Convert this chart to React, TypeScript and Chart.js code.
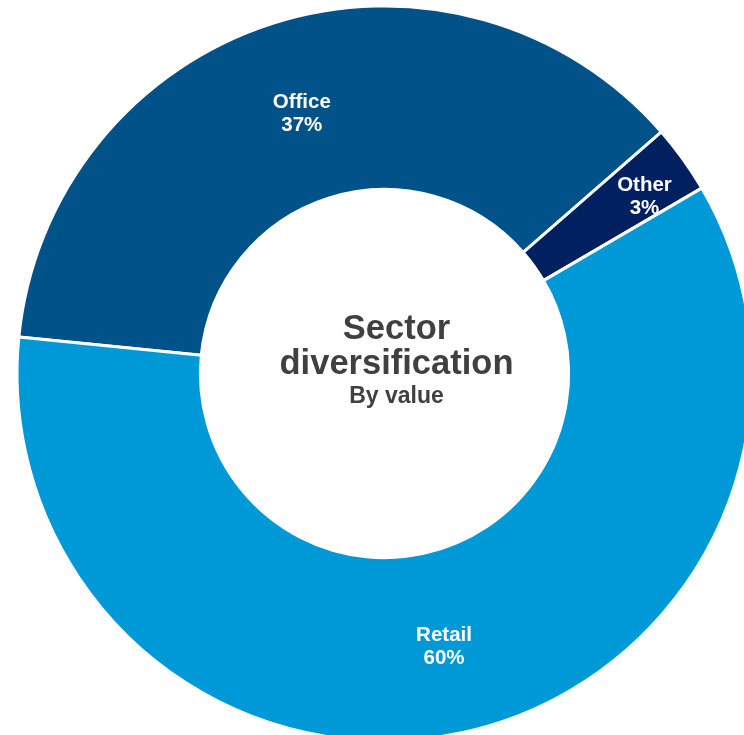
import React, { useEffect, useRef } from "react";
import { Chart, registerables } from "chart.js";

Chart.register(...registerables);

const categories = ["Office", "Other", "Retail"];
const values = [37, 3, 60];
const valueLabels = ["37%", "3%", "60%"];
const colors = ["#005288", "#002060", "#0099D8"];
const labelRadiusFrac = [0.48, 0.71, 0.52];
const labelAngleShiftDeg = [0, 1.5, 0];
const centerLines = ["Sector", "diversification", "By value"];

const FONT = '"Liberation Sans", Arial, Helvetica, sans-serif';

const labelPlugin = {
  id: "segLabels",
  afterDatasetsDraw(chart: any) {
    const ctx = chart.ctx;
    const meta = chart.getDatasetMeta(0);
    ctx.save();
    ctx.fillStyle = "#ffffff";
    ctx.font = `bold 20.5px ${FONT}`;
    ctx.textAlign = "center";
    ctx.textBaseline = "middle";
    meta.data.forEach((arc: any, i: number) => {
      const p = arc.getProps(["x", "y", "startAngle", "endAngle", "innerRadius", "outerRadius"], true);
      const mid = (p.startAngle + p.endAngle) / 2 + (labelAngleShiftDeg[i] * Math.PI) / 180;
      const r = p.innerRadius + labelRadiusFrac[i] * (p.outerRadius - p.innerRadius);
      const x = p.x + Math.cos(mid) * r;
      const y = p.y + Math.sin(mid) * r;
      ctx.fillText(categories[i], x, y - 11.5);
      ctx.fillText(valueLabels[i], x, y + 11.5);
    });
    // center text
    const a0 = meta.data[0];
    const cx = a0.x + 12;
    const cy = a0.y;
    ctx.fillStyle = "#404040";
    ctx.textBaseline = "alphabetic";
    ctx.font = `bold 34.5px ${FONT}`;
    ctx.fillText(centerLines[0], cx, cy - 35);
    ctx.fillText(centerLines[1], cx, cy + 0);
    ctx.font = `bold 23px ${FONT}`;
    ctx.fillText(centerLines[2], cx, cy + 29);
    ctx.restore();
  },
};

export default function App() {
  const ref = useRef<HTMLCanvasElement>(null);
  useEffect(() => {
    if (!ref.current) return;
    const chart = new Chart(ref.current, {
      type: "doughnut",
      data: {
        labels: categories,
        datasets: [
          {
            data: values,
            backgroundColor: colors,
            borderColor: "#ffffff",
            borderWidth: 3,
          },
        ],
      },
      options: {
        animation: false,
        responsive: false,
        devicePixelRatio: 1,
        rotation: 275.7,
        radius: 367.5,
        cutout: "50.1%",
        layout: { padding: 0 },
        plugins: {
          legend: { display: false },
          tooltip: { enabled: false },
          title: { display: false },
        },
      },
      plugins: [labelPlugin],
    });
    return () => chart.destroy();
  }, []);
  return (
    <div
      style={{
        position: "fixed",
        left: 0,
        top: 0,
        width: 744,
        height: 735,
        overflow: "hidden",
        background: "#ffffff",
      }}
    >
      <canvas
        ref={ref}
        width={761}
        height={761}
        style={{ position: "absolute", left: 4, top: -7, width: 761, height: 761 }}
      />
    </div>
  );
}
